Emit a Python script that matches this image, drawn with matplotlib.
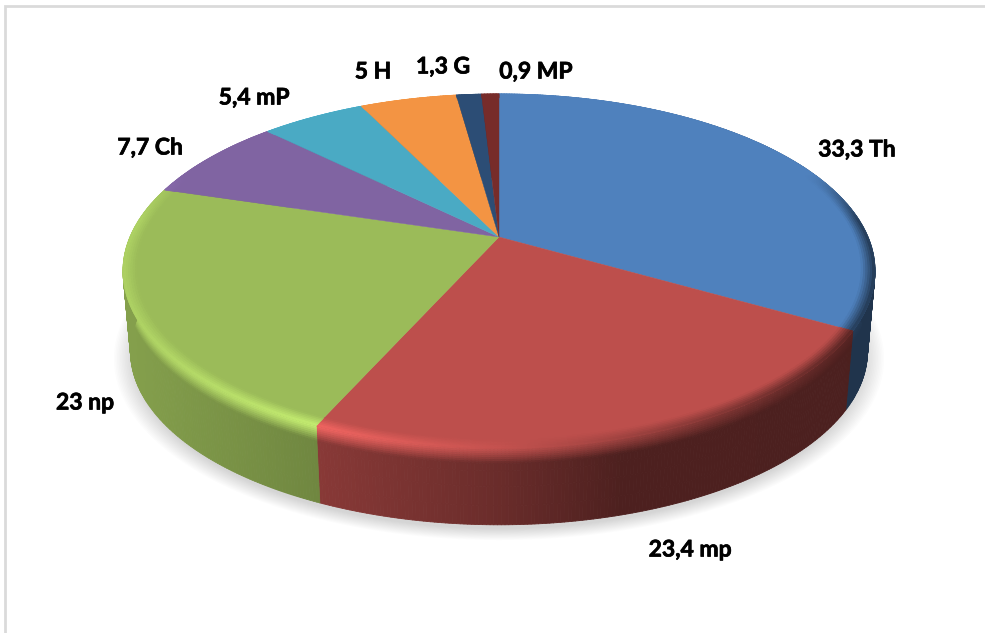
import numpy as np
import matplotlib
matplotlib.use('Agg')
import matplotlib.pyplot as plt
from matplotlib.collections import PolyCollection
import matplotlib.patheffects as pe

# slice shares in percent, clockwise from twelve o'clock
values = [33.3, 23.4, 23, 7.7, 5.4, 5, 1.3, 0.9]
labels = ['33,3 Th', '23,4 mp', '23 np', '7,7 Ch', '5,4 mP', '5 H', '1,3 G', '0,9 MP']
colors = ['#4f81bd', '#bd4f4c', '#9bbb59', '#8064a2', '#4aaac4', '#f39443', '#2c4d75', '#772c2a']
label_xy = [(857, 150), (690, 550), (85, 403), (150, 148), (254, 98), (373, 72), (443, 67), (536, 72)]

# perspective disc, in pixels
CX, CY = 499, 237
A, B, C = 369.0, 170.5, 0.192
DROP = 81
SHRINK = 0.98


def project(theta, r=1.0, drop=0.0, scale=1.0):
    u = r * np.sin(theta)
    v = r * np.cos(theta)
    w = 1 + C * v
    return CX + scale * A * u / w, CY + drop - scale * B * v / w


def side_shade(x):
    return np.interp(x, [120, 320, 490, 620, 880], [0.86, 0.72, 0.57, 0.41, 0.40])


def rim_shade(x):
    return np.interp(x, [120, 320, 500, 640, 880], [1.12, 1.28, 1.04, 0.8, 0.42])


def rgb(hex_color):
    return np.array(matplotlib.colors.to_rgb(hex_color))


def draw_mesh(X, Y, shade, base, zorder):
    # one face-coloured quad per cell, the thin edge closes the seams between cells
    cells = np.clip(shade[..., None] * base, 0, 1).reshape(-1, 3)
    xs = np.stack([X[:-1, :-1], X[:-1, 1:], X[1:, 1:], X[1:, :-1]], axis=-1).reshape(-1, 4)
    ys = np.stack([Y[:-1, :-1], Y[:-1, 1:], Y[1:, 1:], Y[1:, :-1]], axis=-1).reshape(-1, 4)
    polys = PolyCollection(np.stack([xs, ys], axis=-1), facecolors=cells, edgecolors=cells,
                           linewidths=0.6, antialiaseds=True, zorder=zorder)
    ax.add_collection(polys)


fig = plt.figure(figsize=(9.85, 6.33), dpi=100)
ax = fig.add_axes([0, 0, 1, 1])
ax.set_xlim(0, 985)
ax.set_ylim(633, 0)
ax.axis('off')

# chart frame
ax.plot([4.5, 4.5, 985], [633, 6, 6], color='#dadada', lw=2.0, solid_joinstyle='miter')

# soft shadow under the pie
around = np.linspace(0, 2 * np.pi, 361)
for grow in np.linspace(1.045, 0.99, 14):
    sx, sy = project(around, drop=DROP + 6, scale=SHRINK * grow)
    ax.fill(sx, sy, color='#808080', alpha=0.024, lw=0, zorder=1)

edges = np.radians(np.cumsum([0] + values) * 3.6)
edges[-1] = 2 * np.pi

# outer wall with the bevel blending into it
for i in range(len(values)):
    n = max(int((edges[i + 1] - edges[i]) * 120), 2)
    th = np.linspace(edges[i], edges[i + 1], n + 1)
    base = rgb(colors[i])
    rows = np.r_[np.linspace(0, 0.2, 9), 0.3, 0.5, 0.75, 1.0]
    X = np.zeros((rows.size, th.size))
    Y = np.zeros((rows.size, th.size))
    for k, t in enumerate(rows):
        X[k], Y[k] = project(th, drop=DROP * t, scale=1 + (SHRINK - 1) * t)
    mx = 0.5 * (X[:-1, :-1] + X[1:, 1:])
    tm = 0.5 * (rows[:-1] + rows[1:])[:, None] * np.ones_like(mx)
    blend = np.clip(tm / 0.2, 0, 1) ** 1.2
    shade = rim_shade(mx) * (1 - blend) + side_shade(mx) * blend
    draw_mesh(X, Y, shade, base, 2)

# flat top of each slice
for i in range(len(values)):
    th = np.linspace(edges[i], edges[i + 1], max(int((edges[i + 1] - edges[i]) * 180), 2) + 1)
    px, py = project(th)
    ax.fill(np.r_[CX, px], np.r_[CY, py], color=colors[i], lw=0.3, ec=colors[i], zorder=3)

# inner half of the bevel, fading out towards the back of the disc
radii = np.linspace(0.965, 1.0, 7)
for i in range(len(values)):
    n = max(int((edges[i + 1] - edges[i]) * 120), 2)
    th = np.linspace(edges[i], edges[i + 1], n + 1)
    base = rgb(colors[i])
    X = np.zeros((radii.size, th.size))
    Y = np.zeros((radii.size, th.size))
    for k, r in enumerate(radii):
        X[k], Y[k] = project(th, r=r)
    mx = 0.5 * (X[:-1, :-1] + X[1:, 1:])
    thm = 0.5 * (th[:-1] + th[1:])
    front = np.clip((0.4 - np.cos(thm)) / 0.3, 0, 1)
    pos = ((0.5 * (radii[:-1] + radii[1:]) - radii[0]) / (radii[-1] - radii[0]))[:, None]
    shade = 1 + (rim_shade(mx) - 1) * pos * front
    draw_mesh(X, Y, shade, base, 4)

for text, (lx, ly) in zip(labels, label_xy):
    ax.text(lx, ly, text, ha='center', va='center', fontsize=16.5,
            family='Lato', fontweight='bold', color='#000000', zorder=5,
            path_effects=[pe.withStroke(linewidth=0.5, foreground='#000000')])

fig.savefig('out.png', dpi=100)
